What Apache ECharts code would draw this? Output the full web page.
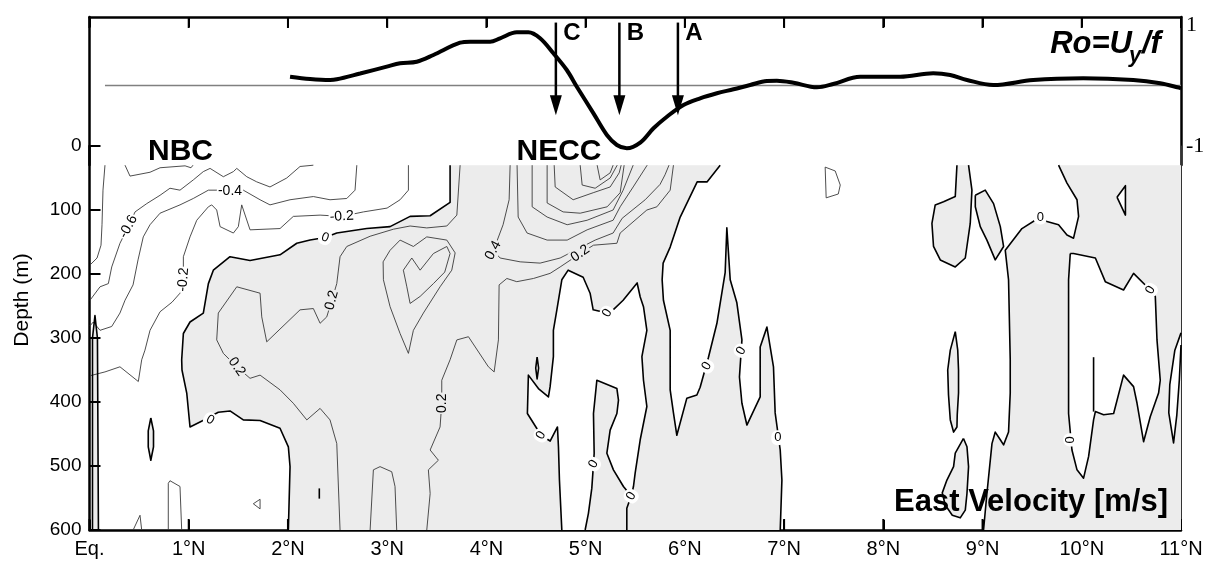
<!DOCTYPE html>
<html>
<head>
<meta charset="utf-8">
<script src="https://cdn.jsdelivr.net/npm/echarts@6/dist/echarts.min.js"></script>
<style>
  html, body { margin: 0; padding: 0; background: #ffffff; }
  #chart { width: 1216px; height: 563px; }
</style>
</head>
<body>
<div id="chart"></div>
<script>
// ---------------------------------------------------------------------------
// Axis categories and tick positions
// ---------------------------------------------------------------------------
const latLabels = ['Eq.', '1°N', '2°N', '3°N', '4°N', '5°N', '6°N', '7°N', '8°N', '9°N', '10°N', '11°N'];
const latTicks = [0, 1, 2, 3, 4, 5, 6, 7, 8, 9, 10, 11];
const depthTicks = [0, 100, 200, 300, 400, 500, 600];

// ---------------------------------------------------------------------------
// Surface Rossby number Ro = U_y / f along the section
// ---------------------------------------------------------------------------
const roLat = [2.021, 2.223, 2.424, 2.492, 2.727, 2.996, 3.130, 3.298, 3.466, 3.735, 3.836, 4.037,
  4.138, 4.306, 4.423, 4.541, 4.675, 4.810, 4.911, 5.079, 5.214, 5.315, 5.415, 5.550, 5.684, 5.819,
  5.986, 6.154, 6.323, 6.490, 6.658, 6.827, 6.927, 7.095, 7.331, 7.495, 7.767, 8.170, 8.503, 8.674,
  8.843, 9.108, 9.511, 10.015, 10.519, 10.791, 11.0];
const roValue = [0.145, 0.107, 0.091, 0.102, 0.198, 0.311, 0.367, 0.393, 0.504, 0.707, 0.724, 0.724,
  0.780, 0.879, 0.879, 0.780, 0.532, 0.256, -0.020, -0.460, -0.818, -0.983, -1.038, -0.945, -0.707, -0.516,
  -0.322, -0.212, -0.129, -0.063, 0.008, 0.074, 0.079, 0.046, -0.030, 0.025, 0.145, 0.145, 0.202, 0.174,
  0.091, 0.008, 0.091, 0.119, 0.091, 0.036, -0.046];

// Profile markers (latitude) and the Ro span of their arrows
const markerLat = [4.70, 5.34, 5.93];
const markerName = ['C', 'B', 'A'];
const markerRo = [1.04, -0.49];

// ---------------------------------------------------------------------------
// East velocity section: regions of eastward flow (u > 0), bounded by the
// zero isotach. Points are [latitude °N, depth m].
// ---------------------------------------------------------------------------
const eastNecc = [[3.634,30],[6.356,30],[6.225,56],[6.124,56],[5.953,111],[5.852,158],[5.781,183],[5.771,209],
  [5.784,241],[5.852,288],[5.852,381],[5.885,417],[5.919,452],[6.020,394],[6.121,389],[6.154,377],[6.238,330],
  [6.323,277],[6.406,198],[6.423,128],[6.457,209],[6.524,245],[6.575,303],[6.550,361],[6.575,402],[6.625,436],
  [6.759,392],[6.759,314],[6.827,283],[6.893,345],[6.910,417],[6.961,475],[6.978,522],[6.961,600],[2.004,600],
  [2.021,501],[2.004,470],[1.920,441],[1.719,429],[1.550,428],[1.416,414],[1.298,416],[1.154,428],[1.013,439],
  [0.980,386],[0.932,350],[0.929,334],[0.946,293],[1.013,275],[1.147,261],[1.198,215],[1.248,194],[1.416,173],
  [1.618,179],[1.920,170],[2.089,152],[2.223,147],[2.374,143],[2.492,136],[2.794,129],[3.029,126],[3.231,110],
  [3.433,109],[3.634,88],[3.634,30]];
const eastEquator = [[0.03,600],[0.03,300],[0.055,265],[0.08,300],[0.09,600]];
const eastLensNbc = [[0.618,425],[0.645,445],[0.645,470],[0.618,491],[0.592,470],[0.592,445]];
const eastLensA = [[8.742,30],[8.725,79],[8.607,87],[8.523,92],[8.490,121],[8.506,157],[8.574,178],[8.725,189],
  [8.826,175],[8.876,121],[8.893,69],[8.859,30]];
const eastLensB = [[8.927,77],[9.027,69],[9.111,90],[9.179,126],[9.212,157],[9.128,178],[9.044,147],[8.977,126],[8.927,95]];
const eastLensC = [[8.725,290],[8.750,319],[8.758,350],[8.758,386],[8.745,420],[8.742,439],[8.708,447],[8.675,428],
  [8.657,389],[8.649,350],[8.675,319]];
const eastLensD = [[8.808,457],[8.843,470],[8.859,501],[8.843,543],[8.826,569],[8.775,581],[8.695,577],[8.624,561],
  [8.594,542],[8.641,522],[8.708,501],[8.725,480]];
const eastNorth = [[9.766,30],[11,30],[11,600],[9.010,600],[9.044,543],[9.095,465],[9.128,447],[9.179,459],[9.212,467],
  [9.262,447],[9.279,386],[9.279,334],[9.262,209],[9.229,163],[9.397,129],[9.582,111],[9.649,118],[9.766,123],
  [9.851,139],[9.917,144],[9.968,110],[9.952,84],[9.851,58],[9.766,30]];

// Westward pockets enclosed by eastward flow
const westNecc = [[4.760,600],[4.736,522],[4.726,470],[4.716,439],[4.642,461],[4.551,452],[4.413,418],[4.423,358],
  [4.524,379],[4.625,392],[4.642,376],[4.675,329],[4.675,288],[4.710,256],[4.760,209],[4.824,194],[4.975,205],
  [5.045,230],[5.076,256],[5.217,261],[5.277,256],[5.378,241],[5.519,214],[5.550,236],[5.583,251],[5.617,288],
  [5.567,329],[5.583,366],[5.617,407],[5.550,459],[5.499,511],[5.482,532],[5.459,547],[5.381,532],[5.280,506],
  [5.214,480],[5.247,444],[5.315,418],[5.331,397],[5.315,379],[5.113,366],[5.096,392],[5.079,418],[5.086,480],
  [5.079,497],[5.062,535],[5.028,574],[4.995,600]];
const westBlob = [[4.511,330],[4.526,347],[4.511,364],[4.497,347]];
const westTongue = [[9.884,168],[9.917,168],[10.137,175],[10.237,212],[10.421,225],[10.522,199],[10.690,225],
  [10.741,235],[10.758,303],[10.791,366],[10.774,386],[10.690,423],[10.623,462],[10.557,402],[10.522,376],
  [10.421,358],[10.321,418],[10.220,420],[10.137,415],[10.119,428],[10.069,485],[10.018,519],[9.952,506],
  [9.901,475],[9.867,418],[9.867,366],[9.867,209]];
const westEdge = [[11,292],[10.938,319],[10.887,373],[10.877,417],[10.925,464],[10.958,420],[10.983,366],[11,311]];
const westSpeck = [[10.355,80],[10.44,62],[10.44,108]];

// Zero isotach pieces that bound no filled area
const zeroSlivers = [
  [[5.44,555],[5.415,566],[5.415,600]],
  [[10.119,330],[10.119,415]],
  [[2.316,535],[2.316,551]]
];

// ---------------------------------------------------------------------------
// Non-zero isotachs (0.2 m/s interval)
// ---------------------------------------------------------------------------
const isoNbcCore = [[0.358,30],[0.408,47],[0.610,41],[0.711,34],[0.963,31],[1.023,34],[1.043,30]];
const isoNbcCoast = [[0.156,30],[0.136,69],[0.126,123],[0.116,155],[0.076,175],[0.005,186]];
const isoM06 = [[2.256,30],[2.122,32],[1.988,50],[1.819,64],[1.685,56],[1.585,48],[1.484,35],[1.450,40],[1.349,48],
  [1.215,35],[1.147,40],[1.046,53],[0.912,69],[0.811,66],[0.711,77],[0.577,90],[0.459,103],[0.391,126],[0.307,152],
  [0.224,189],[0.190,215],[0.106,220],[0.005,241]];
const isoM04 = [[2.694,30],[2.676,69],[2.593,82],[2.424,84],[2.256,79],[2.021,84],[1.819,92],[1.719,84],[1.550,69],
  [1.416,71],[1.282,69],[1.198,69],[1.046,82],[0.912,92],[0.711,105],[0.610,123],[0.542,142],[0.489,178],[0.439,217],
  [0.358,241],[0.307,261],[0.224,282],[0.106,288],[0.038,275],[0.005,281]];
const isoM02 = [[3.214,30],[3.214,69],[3.130,84],[2.999,97],[2.760,103],[2.542,110],[2.324,108],[2.054,110],[1.920,129],
  [1.618,131],[1.534,92],[1.500,126],[1.450,136],[1.316,126],[1.282,100],[1.232,92],[1.198,95],[1.081,116],[1.013,142],
  [0.946,173],[0.946,209],[0.912,230],[0.832,244],[0.711,259],[0.610,288],[0.559,319],[0.526,334],[0.492,368],
  [0.307,345],[0.156,353],[0.005,359]];
const isoP02West = [[3.735,30],[3.702,108],[3.601,125],[3.399,128],[3.231,125],[3.063,130],[2.828,141],[2.593,157],
  [2.525,173],[2.492,215],[2.442,241],[2.391,267],[2.324,277],[2.256,254],[2.122,256],[1.786,306],[1.736,267],
  [1.719,230],[1.484,220],[1.298,261],[1.282,303],[1.349,324],[1.484,345],[1.618,363],[1.719,358],[1.920,381],
  [2.054,402],[2.190,428],[2.324,410],[2.424,428],[2.492,465],[2.525,600]];
const isoP02Deep = [[2.828,600],[2.861,506],[2.928,501],[3.046,509],[3.079,532],[3.096,600]];
const isoP02Necc = [[5.885,30],[5.852,69],[5.718,95],[5.617,100],[5.348,136],[5.315,152],[5.079,155],[4.945,168],
  [4.743,189],[4.642,199],[4.474,207],[4.306,212],[4.206,207],[4.128,217],[4.121,303],[4.078,353],[4.020,345],
  [3.819,298],[3.702,303],[3.634,334],[3.550,366],[3.550,402],[3.533,439],[3.433,475],[3.516,491],[3.415,506],
  [3.433,543],[3.399,600]];
const isoRing = [[2.959,181],[3.029,163],[3.130,147],[3.264,157],[3.399,142],[3.601,147],[3.685,167],[3.651,194],
  [3.533,220],[3.365,261],[3.264,288],[3.214,324],[3.130,293],[3.029,251],[2.962,209],[2.959,181]];
const isoHeart = [[3.163,194],[3.198,220],[3.231,246],[3.332,235],[3.466,215],[3.580,197],[3.634,168],[3.601,157],
  [3.466,168],[3.332,194],[3.248,175],[3.163,194]];
const isoP04 = [[4.239,30],[4.229,84],[4.168,123],[4.098,152],[4.068,163],[4.138,175],[4.340,181],[4.541,183],
  [4.743,175],[4.894,163],[5.096,147],[5.277,136],[5.368,113],[5.600,84],[5.750,60],[5.800,45],[5.840,30]];
const isoP06 = [[4.309,30],[4.320,111],[4.410,136],[4.612,147],[4.814,147],[5.015,131],[5.277,116],[5.348,95],[5.479,64],[5.620,30]];
const isoP08 = [[4.461,30],[4.461,95],[4.612,111],[4.814,123],[5.015,116],[5.277,100],[5.378,69],[5.479,30]];
const isoP10 = [[4.612,30],[4.612,89],[4.773,103],[4.945,105],[5.217,95],[5.348,73],[5.388,30]];
const isoP12 = [[4.683,30],[4.693,64],[4.874,84],[5.076,73],[5.247,64],[5.338,42],[5.358,30]];
const isoP14 = [[4.945,30],[4.965,61],[5.096,66],[5.247,50],[5.318,30]];
const isoP16 = [[5.116,30],[5.146,53],[5.247,42],[5.277,30]];
const isoLoop74 = [[7.414,33],[7.515,39],[7.566,61],[7.546,75],[7.424,81],[7.414,33]];
const isoSpeck17 = [[1.651,559],[1.719,552],[1.719,567],[1.651,559]];
const isoBottom08 = [[0.794,600],[0.794,527],[0.811,523],[0.912,532],[0.929,600]];
const isoBottom05 = [[0.44,600],[0.509,577],[0.526,600]];

// Isotach labels: [latitude, depth, text]
const isoLabels = [[0.391,126,'-0.6'],[1.416,71,'-0.4'],[2.542,110,'-0.2'],[0.946,209,'-0.2'],
  [2.442,241,'0.2'],[1.484,345,'0.2'],[4.068,163,'0.4'],[4.945,168,'0.2'],[3.550,402,'0.2']];
const zeroLabels = [[2.374,143],[1.215,428],[5.217,261],[4.551,452],[5.079,497],[5.459,547],
  [6.220,344],[6.568,320],[6.938,456],[9.582,111],[10.691,225],[9.889,459]];

// ---------------------------------------------------------------------------
// Drawing
// ---------------------------------------------------------------------------
const FONT = '"Liberation Sans", Arial, Helvetica, sans-serif';
const SHADE = '#ececec';
const RO_MIN = -1.314, RO_MAX = 1.132;
const eastRegions = [eastNecc, eastEquator, eastLensNbc, eastLensA, eastLensB, eastLensC, eastLensD, eastNorth];
const westRegions = [westNecc, westBlob, westTongue, westEdge, westSpeck];
const isotachs = [isoNbcCore, isoNbcCoast, isoM06, isoM04, isoM02, isoP02West, isoP02Deep, isoP02Necc, isoRing,
  isoHeart, isoP04, isoP06, isoP08, isoP10, isoP12, isoP14, isoP16, isoLoop74, isoSpeck17, isoBottom08, isoBottom05];

const labelTilt = [62, 0, 3, 85, 75, -55, 62, 35, 90];
const labelOnShade = [false, false, false, false, true, true, true, true, true];
const zeroTilt = [-20, -30, 60, 60, 60, 60, 60, 60, 0, 0, 60, 90];

const TOP_DEPTH = 30, BOTTOM_DEPTH = 600, EAST_EDGE = 11;
const TICK_LEN = 11, TICK_W = 2;

// A segment lying on the data frame is not part of the isotach
function onFrame(a, b) {
  return (a[1] <= TOP_DEPTH && b[1] <= TOP_DEPTH) ||
         (a[1] >= BOTTOM_DEPTH && b[1] >= BOTTOM_DEPTH) ||
         (a[0] >= EAST_EDGE && b[0] >= EAST_EDGE);
}

// Split a closed ring into the open runs that are real contour line
function contourRuns(ring) {
  const n = ring.length;
  const segs = [];
  for (let i = 0; i < n; i++) {
    const a = ring[i], b = ring[(i + 1) % n];
    segs.push({ a: a, b: b, frame: onFrame(a, b) });
  }
  const start = segs.findIndex(s => s.frame);
  if (start < 0) return [ring.concat([ring[0]])];
  const runs = [];
  let cur = null;
  for (let k = 1; k <= n; k++) {
    const s = segs[(start + k) % n];
    if (s.frame) {
      if (cur) { runs.push(cur); cur = null; }
    } else {
      if (!cur) cur = [s.a];
      cur.push(s.b);
    }
  }
  if (cur) runs.push(cur);
  return runs;
}

function lineEl(points, color, width) {
  return {
    type: 'polyline',
    shape: { points: points },
    style: { stroke: color, lineWidth: width, fill: null, lineJoin: 'round' }
  };
}

// Inward tick mark at pixel point p, pointing along (dx, dy), drawn as a solid bar
function tickEl(p, dx, dy) {
  const vertical = dx === 0;
  const w = vertical ? TICK_W : TICK_LEN;
  const h = vertical ? TICK_LEN : TICK_W;
  const x = vertical ? p[0] - TICK_W / 2 : (dx > 0 ? p[0] : p[0] - TICK_LEN);
  const y = vertical ? (dy > 0 ? p[1] : p[1] - TICK_LEN) : p[1] - TICK_W / 2;
  return { type: 'rect', shape: { x: x, y: y, width: w, height: h }, style: { fill: '#000' }, z2: 50 };
}

const innerTick = { show: true, inside: true, length: 10, lineStyle: { color: '#000', width: 2 } };

const option = {
  animation: false,
  backgroundColor: '#ffffff',
  textStyle: { fontFamily: FONT },
  grid: [
    { left: 89.5, right: 35, top: 17, height: 148 },
    { left: 89.5, right: 35, top: 146, height: 384 }
  ],
  xAxis: [
    {
      gridIndex: 0, type: 'value', position: 'top', min: 0, max: 11, interval: 1,
      axisLine: { show: true, onZero: false, lineStyle: { color: '#000', width: 2.5 } },
      axisTick: innerTick,
      axisLabel: { show: false },
      splitLine: { show: false }
    },
    {
      gridIndex: 1, type: 'value', position: 'bottom', min: 0, max: 11, interval: 1,
      axisLine: { show: true, onZero: false, lineStyle: { color: '#000', width: 2.5 } },
      axisTick: innerTick,
      axisLabel: {
        formatter: v => latLabels[Math.round(v)],
        fontSize: 20, color: '#000', fontFamily: FONT, margin: 9
      },
      splitLine: { show: false }
    }
  ],
  yAxis: [
    {
      gridIndex: 0, type: 'value', position: 'right', min: RO_MIN, max: RO_MAX,
      axisLine: { show: true, onZero: false, lineStyle: { color: '#000', width: 2.5 } },
      axisTick: { show: false },
      axisLabel: {
        customValues: [-1, 1],
        formatter: v => (v > 0 ? '1' : '-1'),
        fontFamily: '"Liberation Serif", "Times New Roman", serif',
        fontSize: 22, color: '#000', margin: 5
      },
      splitLine: { show: false }
    },
    {
      gridIndex: 0, type: 'value', position: 'left', min: 0, max: 1,
      axisLine: { show: true, onZero: false, lineStyle: { color: '#000', width: 2.5 } },
      axisTick: { show: false }, axisLabel: { show: false }, splitLine: { show: false }
    },
    {
      gridIndex: 1, type: 'value', position: 'left', inverse: true, min: 0, max: 600, interval: 100,
      name: 'Depth (m)', nameLocation: 'middle', nameGap: 57,
      nameTextStyle: { fontSize: 21, color: '#000', fontFamily: FONT, padding: [0, 0, 0, 76] },
      axisLine: { show: true, onZero: false, lineStyle: { color: '#000', width: 2.5 } },
      axisTick: innerTick,
      axisLabel: { fontSize: 19, color: '#000', fontFamily: FONT, margin: 8 },
      splitLine: { show: false }
    },
    {
      gridIndex: 1, type: 'value', position: 'right', min: 0, max: 1,
      axisLine: { show: true, onZero: false, lineStyle: { color: '#333', width: 1 } },
      axisTick: { show: false }, axisLabel: { show: false }, splitLine: { show: false }
    }
  ],
  series: [
    // Ro = 0 reference
    {
      type: 'line', xAxisIndex: 0, yAxisIndex: 0, silent: true, symbol: 'none', z: 2,
      data: [[0.156, 0], [11, 0]],
      lineStyle: { color: '#808080', width: 1.5 }
    },
    // Ro profile
    {
      type: 'line', xAxisIndex: 0, yAxisIndex: 0, silent: true, symbol: 'none', z: 3,
      smooth: 0.35,
      data: roLat.map((x, i) => [x, roValue[i]]),
      lineStyle: { color: '#000', width: 4 }
    },
    // Profile markers C, B, A (the first item also carries the top-frame ticks)
    {
      type: 'custom', xAxisIndex: 0, yAxisIndex: 0, silent: true, z: 4,
      data: markerLat.map(l => [l, markerRo[0]]),
      renderItem: function (params, api) {
        const i = params.dataIndex;
        const top = api.coord([markerLat[i], markerRo[0]]);
        const tip = api.coord([markerLat[i], markerRo[1]]);
        const headLen = 20, headHalf = 6;
        const children = [
          { type: 'line', shape: { x1: top[0], y1: top[1], x2: tip[0], y2: tip[1] - headLen + 2 },
            style: { stroke: '#000', lineWidth: 2.5 } },
          { type: 'polygon',
            shape: { points: [[tip[0] - headHalf, tip[1] - headLen], [tip[0] + headHalf, tip[1] - headLen], [tip[0], tip[1]]] },
            style: { fill: '#000' } },
          { type: 'text', x: top[0] + 16, y: top[1] + 11,
            style: { text: markerName[i], font: 'bold 24px ' + FONT, fill: '#000', align: 'center', verticalAlign: 'middle' } }
        ];
        if (i === 0) {
          latTicks.forEach(l => children.push(tickEl(api.coord([l, RO_MAX]), 0, 1)));
        }
        return { type: 'group', children: children };
      }
    },
    // Eastward flow shading (bottom-axis ticks go first so the shading covers them)
    {
      type: 'custom', xAxisIndex: 1, yAxisIndex: 2, silent: true, z: 1,
      data: eastRegions.map(r => r[0]),
      renderItem: function (params, api) {
        const ring = eastRegions[params.dataIndex];
        const children = [];
        if (params.dataIndex === 0) {
          latTicks.forEach(l => {
            const t = tickEl(api.coord([l, 600]), 0, -1);
            t.z2 = 0;
            children.push(t);
          });
        }
        children.push({
          type: 'polygon',
          shape: { points: ring.map(p => api.coord(p)) },
          style: { fill: SHADE, stroke: null },
          z2: 10
        });
        return { type: 'group', children: children };
      }
    },
    // Westward pockets
    {
      type: 'custom', xAxisIndex: 1, yAxisIndex: 2, silent: true, z: 2,
      data: westRegions.map(r => r[0]),
      renderItem: function (params, api) {
        const ring = westRegions[params.dataIndex];
        return {
          type: 'polygon',
          shape: { points: ring.map(p => api.coord(p)) },
          style: { fill: '#ffffff', stroke: null }
        };
      }
    },
    // Non-zero isotachs
    {
      type: 'custom', xAxisIndex: 1, yAxisIndex: 2, silent: true, z: 3,
      data: isotachs.map(l => l[0]),
      renderItem: function (params, api) {
        const line = isotachs[params.dataIndex];
        return lineEl(line.map(p => api.coord(p)), '#3a3a3a', 0.9);
      }
    },
    // Zero isotach, plus the depth-axis ticks
    {
      type: 'custom', xAxisIndex: 1, yAxisIndex: 2, silent: true, z: 4,
      data: [[0, 0]],
      renderItem: function (params, api) {
        const children = [];
        eastRegions.concat(westRegions).forEach(ring => {
          contourRuns(ring).forEach(run => children.push(lineEl(run.map(p => api.coord(p)), '#000', 1.6)));
        });
        zeroSlivers.forEach(l => children.push(lineEl(l.map(p => api.coord(p)), '#000', 1.6)));
        depthTicks.forEach(d => children.push(tickEl(api.coord([0, d]), 1, 0)));
        return { type: 'group', children: children };
      }
    },
    // Isotach labels
    {
      type: 'custom', xAxisIndex: 1, yAxisIndex: 2, silent: true, z: 5,
      data: isoLabels.map(l => [l[0], l[1]]),
      renderItem: function (params, api) {
        const i = params.dataIndex;
        const p = api.coord([isoLabels[i][0], isoLabels[i][1]]);
        return {
          type: 'text', x: p[0], y: p[1], rotation: labelTilt[i] * Math.PI / 180,
          style: {
            text: isoLabels[i][2], font: '14px ' + FONT, fill: '#000',
            align: 'center', verticalAlign: 'middle',
            backgroundColor: labelOnShade[i] ? SHADE : '#ffffff', padding: [0, 1]
          }
        };
      }
    },
    // Zero labels
    {
      type: 'custom', xAxisIndex: 1, yAxisIndex: 2, silent: true, z: 5,
      data: zeroLabels,
      renderItem: function (params, api) {
        const i = params.dataIndex;
        const p = api.coord(zeroLabels[i]);
        return {
          type: 'text', x: p[0], y: p[1], rotation: zeroTilt[i] * Math.PI / 180,
          style: {
            text: '0', font: '13px ' + FONT, fill: '#000',
            align: 'center', verticalAlign: 'middle',
            backgroundColor: '#ffffff', padding: [1, 3], borderRadius: 6
          }
        };
      }
    }
  ],
  graphic: [
    { type: 'text', x: 180.5, y: 151.5, z: 10,
      style: { text: 'NBC', font: 'bold 30px ' + FONT, fill: '#000', align: 'center', verticalAlign: 'middle' } },
    { type: 'text', x: 559, y: 151.5, z: 10,
      style: { text: 'NECC', font: 'bold 30px ' + FONT, fill: '#000', align: 'center', verticalAlign: 'middle' } },
    { type: 'text', x: 1168, y: 502.5, z: 10,
      style: { text: 'East Velocity [m/s]', font: 'bold 31px ' + FONT, fill: '#000', align: 'right', verticalAlign: 'middle' } },
    { type: 'text', x: 1132, y: 44.3, z: 10,
      style: { text: 'Ro=U', font: 'italic bold 31px ' + FONT, fill: '#000', align: 'right', verticalAlign: 'middle' } },
    { type: 'text', x: 1129, y: 55.5, z: 10,
      style: { text: 'y', font: 'italic bold 22px ' + FONT, fill: '#000', align: 'left', verticalAlign: 'middle' } },
    { type: 'text', x: 1142, y: 44.3, z: 10,
      style: { text: '/f', font: 'italic bold 31px ' + FONT, fill: '#000', align: 'left', verticalAlign: 'middle' } }
  ]
};

const chart = echarts.init(document.getElementById('chart'), null, { renderer: 'canvas', width: 1216, height: 563 });
chart.setOption(option);
</script>
</body>
</html>
